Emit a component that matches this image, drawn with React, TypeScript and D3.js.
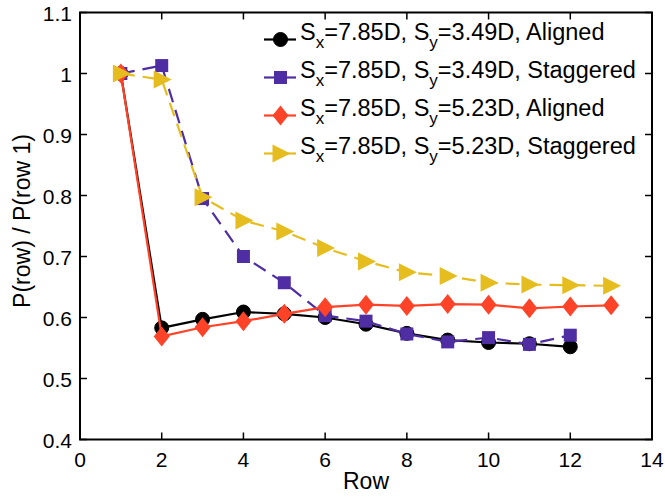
import React from "react";
import * as d3 from "d3";

const rowsA = [1, 2, 3, 4, 5, 6, 7, 8, 9, 10, 11, 12];
const rowsB = [1, 2, 3, 4, 5, 6, 7, 8, 9, 10, 11, 12, 13];
const alignedSy349 = [1.0, 0.583, 0.597, 0.609, 0.606, 0.6, 0.589, 0.574, 0.563, 0.559, 0.557, 0.552];
const staggeredSy349 = [1.0, 1.013, 0.795, 0.7, 0.657, 0.603, 0.594, 0.573, 0.56, 0.567, 0.556, 0.571];
const alignedSy523 = [1.0, 0.569, 0.584, 0.594, 0.606, 0.617, 0.621, 0.619, 0.622, 0.621, 0.615, 0.618, 0.62];
const staggeredSy523 = [1.0, 0.99, 0.797, 0.759, 0.741, 0.714, 0.692, 0.674, 0.668, 0.657, 0.654, 0.653, 0.652];
const xTicks = [0, 2, 4, 6, 8, 10, 12, 14];
const yTicks = [0.4, 0.5, 0.6, 0.7, 0.8, 0.9, 1, 1.1];
const legendSy = ["3.49D", "3.49D", "5.23D", "5.23D"];
const legendKind = ["Aligned", "Staggered", "Aligned", "Staggered"];

const W = 665, H = 497;
const x = d3.scaleLinear().domain([0, 14]).range([80, 652]);
const y = d3.scaleLinear().domain([0.4, 1.1]).range([439.5, 12.5]);

type Series = { xs: number[]; ys: number[]; color: string; dash?: string; marker: string };
const series: Series[] = [
  { xs: rowsA, ys: alignedSy349, color: "#000000", marker: "circle" },
  { xs: rowsA, ys: staggeredSy349, color: "#4f2ea3", dash: "14,8", marker: "square" },
  { xs: rowsB, ys: alignedSy523, color: "#ff4328", marker: "diamond" },
  { xs: rowsB, ys: staggeredSy523, color: "#e6bd1e", dash: "14,8", marker: "triangle" },
];

function Marker({ type, cx, cy, color }: { type: string; cx: number; cy: number; color: string }) {
  if (type === "circle") return <circle cx={cx} cy={cy} r={7} fill={color} stroke={color} strokeWidth={1} />;
  if (type === "square") return <rect x={cx - 6.5} y={cy - 6.5} width={13} height={13} fill={color} />;
  if (type === "diamond")
    return <path d={`M${cx},${cy - 10}L${cx + 8},${cy}L${cx},${cy + 10}L${cx - 8},${cy}Z`} fill={color} />;
  return <path d={`M${cx - 8},${cy - 9}L${cx + 10},${cy}L${cx - 8},${cy + 9}Z`} fill={color} />;
}

export default function App() {
  const line = d3.line<[number, number]>().x((d) => x(d[0])).y((d) => y(d[1]));
  const font = "Liberation Sans, Arial, sans-serif";
  return (
    <svg width={W} height={H} style={{ position: "absolute", left: 0, top: 0, background: "#fff" }} fontFamily={font}>
      <rect x={0} y={0} width={W} height={H} fill="#fff" />
      {series.map((s, i) => (
        <g key={i}>
          <path
            d={line(s.xs.map((v, j) => [v, s.ys[j]]) as [number, number][]) || ""}
            fill="none"
            stroke={s.color}
            strokeWidth={2.2}
            strokeDasharray={s.dash}
          />
          {s.xs.map((v, j) => (
            <Marker key={j} type={s.marker} cx={x(v)} cy={y(s.ys[j])} color={s.color} />
          ))}
        </g>
      ))}
      <rect x={x(0)} y={y(1.1)} width={x(14) - x(0)} height={y(0.4) - y(1.1)} fill="none" stroke="#000" strokeWidth={2} />
      {xTicks.map((t) => (
        <g key={"x" + t}>
          <line x1={x(t)} x2={x(t)} y1={y(0.4)} y2={y(0.4) - 7} stroke="#000" strokeWidth={1.5} />
          <line x1={x(t)} x2={x(t)} y1={y(1.1)} y2={y(1.1) + 7} stroke="#000" strokeWidth={1.5} />
          <text x={x(t)} y={467} textAnchor="middle" fontSize={21}>{t}</text>
        </g>
      ))}
      {yTicks.map((t) => (
        <g key={"y" + t}>
          <line x1={x(0)} x2={x(0) + 7} y1={y(t)} y2={y(t)} stroke="#000" strokeWidth={1.5} />
          <line x1={x(14)} x2={x(14) - 7} y1={y(t)} y2={y(t)} stroke="#000" strokeWidth={1.5} />
          <text x={72} y={y(t) + 8} textAnchor="end" fontSize={21}>{d3.format("")(t)}</text>
        </g>
      ))}
      <text x={366} y={489} textAnchor="middle" fontSize={23}>Row</text>
      <text transform={`translate(30,221) rotate(-90)`} textAnchor="middle" fontSize={23}>P(row) / P(row 1)</text>
      {series.map((s, i) => {
        const ly = 39.5 + i * 38;
        return (
          <g key={"l" + i}>
            <line x1={264} x2={296} y1={ly} y2={ly} stroke={s.color} strokeWidth={2.2} />
            <Marker type={s.marker} cx={280.5} cy={ly} color={s.color} />
            <text x={300} y={ly + 0.5} fontSize={23.5}>
              <tspan>S</tspan>
              <tspan fontSize={17} dy={8}>x</tspan>
              <tspan dy={-8}>=7.85D, S</tspan>
              <tspan fontSize={17} dy={8}>y</tspan>
              <tspan dy={-8}>{"=" + legendSy[i] + ", " + legendKind[i]}</tspan>
            </text>
          </g>
        );
      })}
    </svg>
  );
}
